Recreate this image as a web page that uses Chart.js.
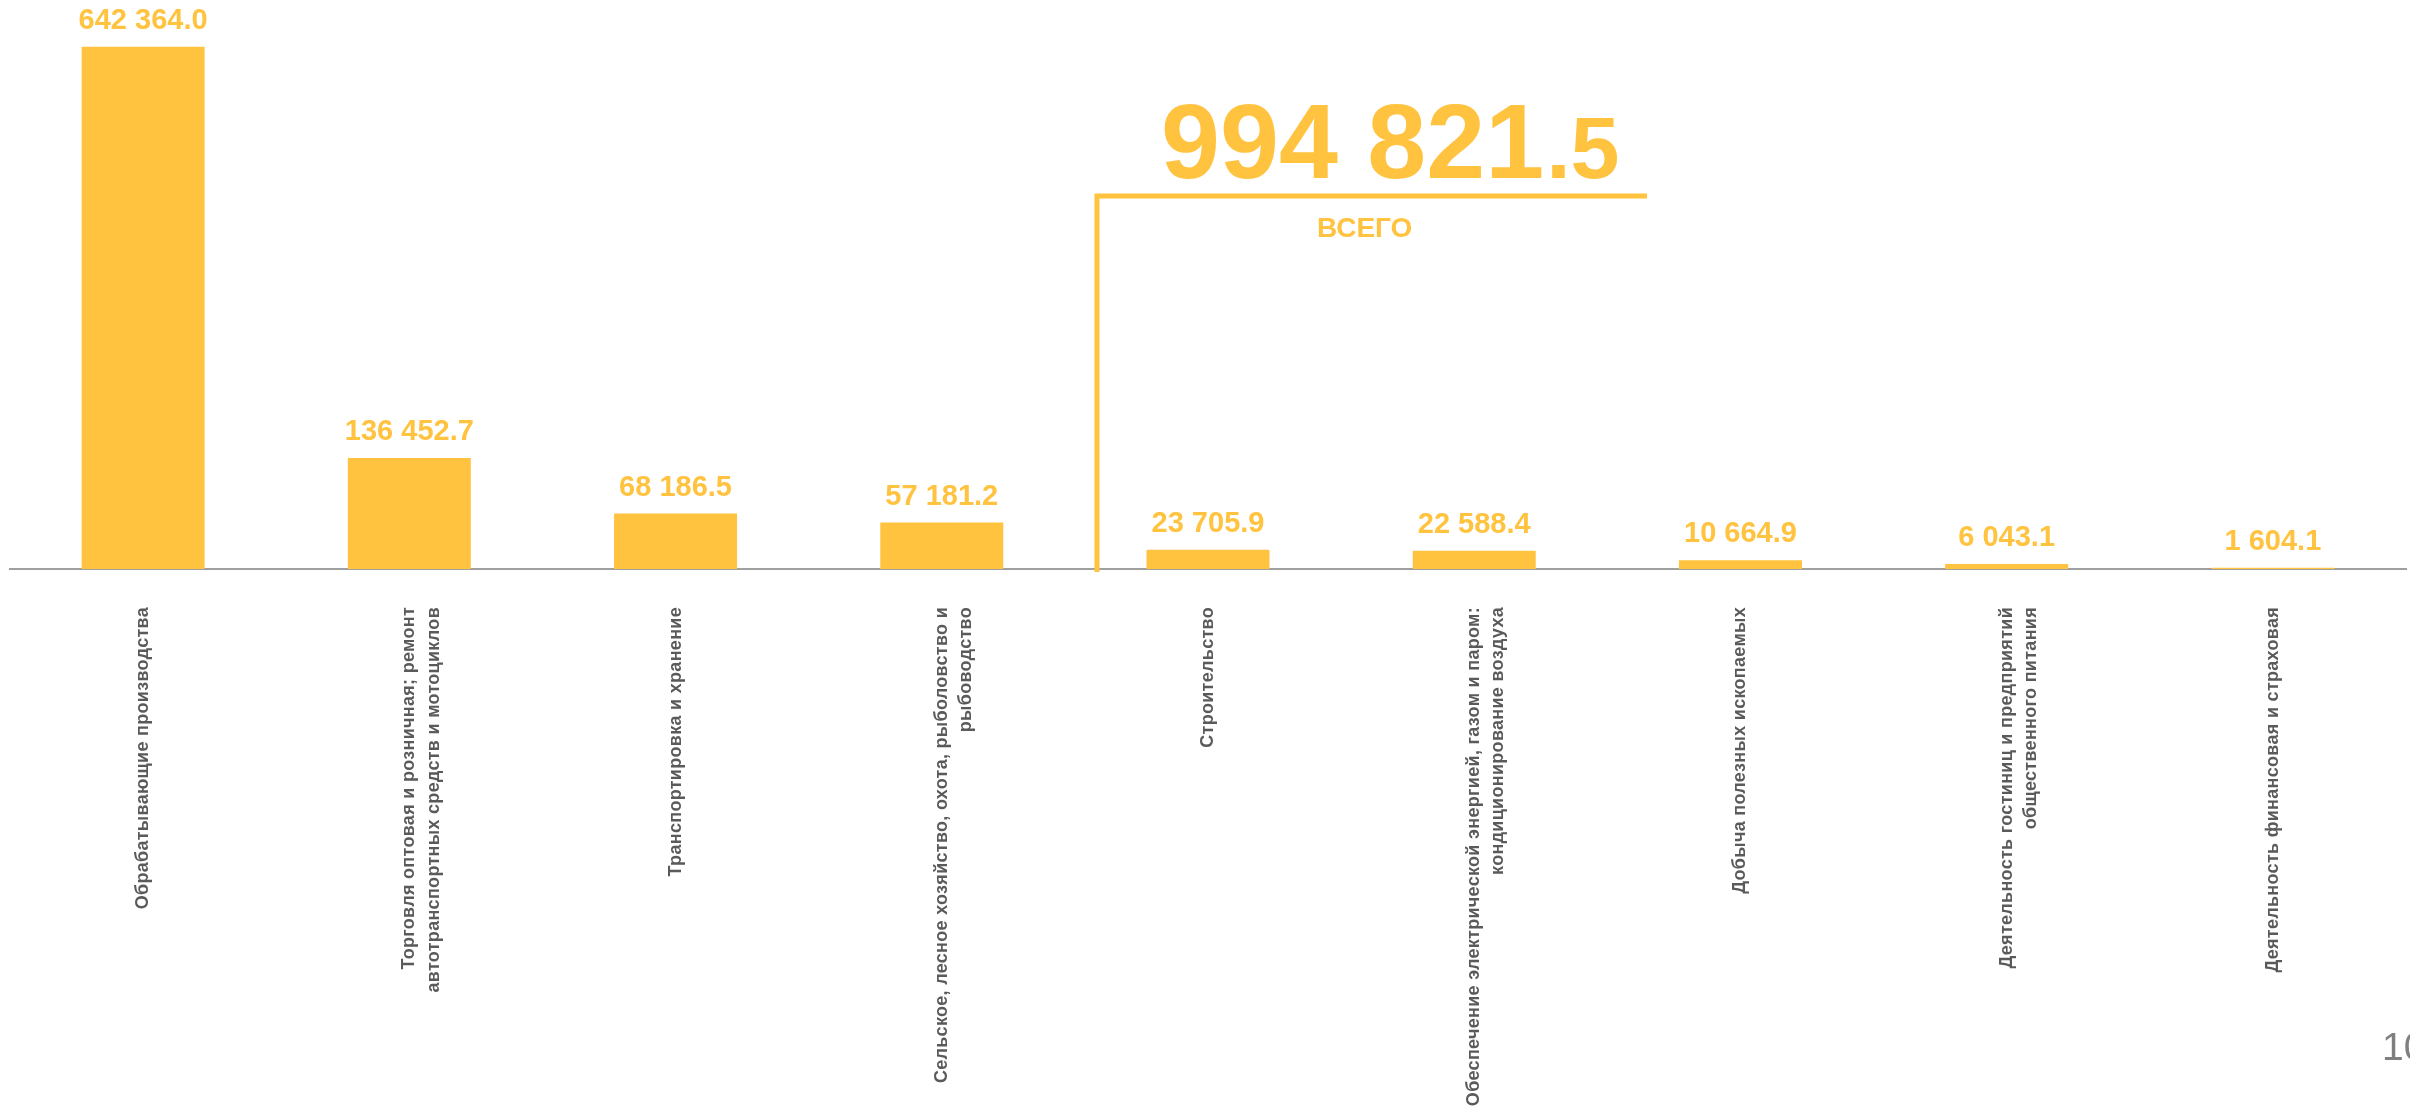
<!DOCTYPE html>
<html>
<head>
<meta charset="utf-8">
<script src="https://cdn.jsdelivr.net/npm/chart.js@4"></script>
<style>
  html, body { margin: 0; padding: 0; background: #fff; }
  #wrap { width: 2410px; height: 1111px; position: relative; }
</style>
</head>
<body>
<div id="wrap"><canvas id="chart" width="2410" height="1111"></canvas></div>
<script>
const categories = [
  'Обрабатывающие производства',
  ['Торговля оптовая и розничная; ремонт', 'автотранспортных средств и мотоциклов'],
  'Транспортировка и хранение',
  ['Сельское, лесное хозяйство, охота, рыболовство и', 'рыбоводство'],
  'Строительство',
  ['Обеспечение электрической энергией, газом и паром:', 'кондиционирование воздуха'],
  'Добыча полезных ископаемых',
  ['Деятельность гостиниц и предприятий', 'общественного питания'],
  'Деятельность финансовая и страховая'
];
const values = [642364.0, 136452.7, 68186.5, 57181.2, 23705.9, 22588.4, 10664.9, 6043.1, 1604.1];
const totalMain = '994 821';
const totalDecimal = '.5';
const totalLabel = 'ВСЕГО';
const pageNumber = '10';

const YELLOW = '#FFC340';
const FONT = "'Liberation Sans', Arial, sans-serif";

function fmt(v) {
  const parts = v.toFixed(1).split('.');
  return parts[0].replace(/\B(?=(\d{3})+(?!\d))/g, ' ') + '.' + parts[1];
}

// slightly spread-out letters on the category labels
const spacing = {
  id: 'spacing',
  beforeLayout(chart) { chart.ctx.letterSpacing = '0.3px'; },
  beforeDraw(chart) { chart.ctx.letterSpacing = '0.3px'; }
};

const valueLabels = {
  id: 'valueLabels',
  afterDatasetsDraw(chart) {
    const ctx = chart.ctx;
    const meta = chart.getDatasetMeta(0);
    ctx.save();
    ctx.letterSpacing = '0px';
    ctx.font = 'bold 29px ' + FONT;
    ctx.fillStyle = YELLOW;
    ctx.textAlign = 'center';
    ctx.textBaseline = 'alphabetic';
    meta.data.forEach((bar, i) => {
      ctx.fillText(fmt(values[i]), bar.x, bar.y - 18);
    });
    ctx.restore();
  }
};

const totalBox = {
  id: 'totalBox',
  afterDraw(chart) {
    const ctx = chart.ctx;
    const bottom = chart.chartArea.bottom;
    ctx.save();
    ctx.letterSpacing = '0px';
    ctx.strokeStyle = YELLOW;
    ctx.lineWidth = 5;
    ctx.beginPath();
    ctx.moveTo(1097, bottom + 3);
    ctx.lineTo(1097, 196);
    ctx.lineTo(1647, 196);
    ctx.stroke();

    ctx.fillStyle = YELLOW;
    ctx.textAlign = 'left';
    ctx.textBaseline = 'alphabetic';
    ctx.font = 'bold 106px ' + FONT;
    ctx.fillText(totalMain, 1161, 178);
    const w = ctx.measureText(totalMain).width;
    ctx.font = 'bold 88px ' + FONT;
    ctx.fillText(totalDecimal, 1163 + w, 178);

    ctx.font = 'bold 28px ' + FONT;
    ctx.fillText(totalLabel, 1317, 237);

    ctx.fillStyle = '#7f7f7f';
    ctx.font = '39px ' + FONT;
    ctx.fillText(pageNumber, 2382, 1060);
    ctx.restore();
  }
};

new Chart(document.getElementById('chart').getContext('2d'), {
  type: 'bar',
  data: {
    labels: categories,
    datasets: [{
      data: values,
      backgroundColor: YELLOW,
      borderWidth: 0,
      barPercentage: 0.462,
      categoryPercentage: 1
    }]
  },
  options: {
    responsive: false,
    animation: false,
    events: [],
    layout: { padding: { left: 10, right: 4, top: 0, bottom: 0 } },
    plugins: { legend: { display: false }, tooltip: { enabled: false } },
    scales: {
      x: {
        grid: { display: false, drawTicks: false },
        border: { display: true, color: '#a0a0a0', width: 2 },
        ticks: {
          autoSkip: false,
          maxRotation: 90,
          minRotation: 90,
          padding: 38,
          color: '#5a5a5a',
          font: { family: FONT, size: 18, weight: 'bold', lineHeight: 1.35 }
        },
        afterFit(scale) { scale.height = 542; }
      },
      y: {
        display: false,
        min: 0,
        max: 700000
      }
    }
  },
  plugins: [spacing, valueLabels, totalBox]
});
</script>
</body>
</html>
